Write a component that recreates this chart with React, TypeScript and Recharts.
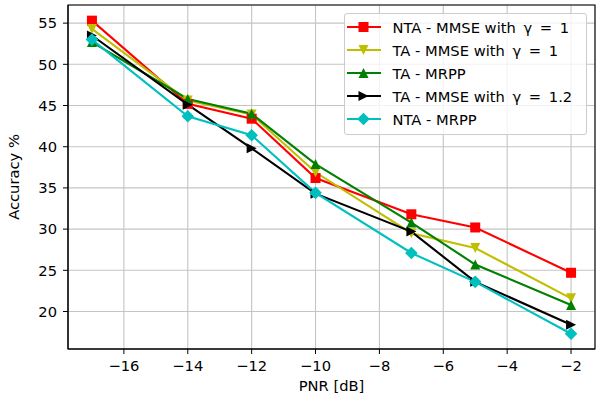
import React from 'react';
import { LineChart, Line, XAxis, YAxis, CartesianGrid, Legend, ReferenceArea } from 'recharts';

// PNR values (x) and accuracy in % for each method
const pnr = [-17, -14, -12, -10, -7, -5, -2];
const ntaMmse = [55.3, 45.2, 43.4, 36.2, 31.8, 30.2, 24.7];
const taMmse = [54.3, 45.6, 43.9, 36.9, 29.5, 27.7, 21.6];
const taMrpp = [52.7, 45.8, 44.0, 37.9, 30.8, 25.7, 20.8];
const taMmse12 = [53.5, 45.1, 39.8, 34.3, 29.7, 23.6, 18.4];
const ntaMrpp = [53.0, 43.7, 41.4, 34.4, 27.1, 23.6, 17.3];

const xTicks = [-16, -14, -12, -10, -8, -6, -4, -2];
const yTicks = [20, 25, 30, 35, 40, 45, 50, 55];

type Shape = 'square' | 'down' | 'up' | 'right' | 'diamond';

// name is split in plain part + math part (matplotlib mathtext spaces the math wider)
const series: { key: string; name: string; math?: string; color: string; shape: Shape }[] = [
  { key: 'ntaMmse', name: 'NTA - MMSE with', math: 'γ = 1', color: '#ff0000', shape: 'square' },
  { key: 'taMmse', name: 'TA - MMSE with', math: 'γ = 1', color: '#bfbf00', shape: 'down' },
  { key: 'taMrpp', name: 'TA - MRPP', color: '#008000', shape: 'up' },
  { key: 'taMmse12', name: 'TA - MMSE with', math: 'γ = 1.2', color: '#000000', shape: 'right' },
  { key: 'ntaMrpp', name: 'NTA - MRPP', color: '#00bfbf', shape: 'diamond' },
];

const data = pnr.map((x, i) => ({
  pnr: x,
  ntaMmse: ntaMmse[i],
  taMmse: taMmse[i],
  taMrpp: taMrpp[i],
  taMmse12: taMmse12[i],
  ntaMrpp: ntaMrpp[i],
}));

const FONT = 'DejaVu Sans';
const minus = (v: number) => (v < 0 ? `\u2212${-v}` : String(v));

function Marker({ cx, cy, shape, color }: { cx: number; cy: number; shape: Shape; color: string }) {
  const r = 5;
  switch (shape) {
    case 'square':
      return <rect x={cx - r} y={cy - r} width={r * 2} height={r * 2} fill={color} />;
    case 'down':
      return <polygon points={`${cx - r},${cy - r} ${cx + r},${cy - r} ${cx},${cy + r}`} fill={color} />;
    case 'up':
      return <polygon points={`${cx - r},${cy + r} ${cx + r},${cy + r} ${cx},${cy - r}`} fill={color} />;
    case 'right':
      return <polygon points={`${cx - r},${cy - r} ${cx - r},${cy + r} ${cx + r},${cy}`} fill={color} />;
    default:
      return <polygon points={`${cx},${cy - 6.3} ${cx + 6.3},${cy} ${cx},${cy + 6.3} ${cx - 6.3},${cy}`} fill={color} />;
  }
}

function LegendBox() {
  return (
    <div
      style={{
        width: 241,
        height: 118,
        border: '1px solid #cccccc',
        borderRadius: 3,
        background: 'rgba(255,255,255,0.8)',
        paddingTop: 1.5,
        boxSizing: 'content-box',
        fontFamily: FONT,
        fontSize: 14.7,
        color: '#000',
      }}
    >
      {series.map(s => (
        <div key={s.key} style={{ height: 23, display: 'flex', alignItems: 'center' }}>
          <svg width={34} height={16} style={{ marginLeft: 2, marginRight: 11.5 }}>
            <line x1={0} y1={8} x2={34} y2={8} stroke={s.color} strokeWidth={2.1} />
            <Marker cx={16.5} cy={8} shape={s.shape} color={s.color} />
          </svg>
          <span style={{ whiteSpace: 'nowrap' }}>
            {s.name}
            {s.math && <span style={{ wordSpacing: 3 }}> {s.math}</span>}
          </span>
        </div>
      ))}
    </div>
  );
}

export default function App() {
  return (
    <div style={{ position: 'absolute', left: 0, top: 0, width: 608, height: 401, background: '#fff', fontFamily: FONT }}>
      <LineChart width={608} height={401} data={data} margin={{ top: 5, right: 13, left: 0, bottom: 0 }}>
        <CartesianGrid stroke="#c4c4c4" strokeWidth={1.1} />
        <XAxis
          type="number"
          dataKey="pnr"
          domain={[-17.75, -1.25]}
          ticks={xTicks}
          allowDataOverflow
          height={52}
          tickSize={5}
          tickMargin={7}
          stroke="#000"
          tick={{ fill: '#000', fontSize: 14.7, fontFamily: FONT }}
          tickFormatter={minus}
          label={{ value: 'PNR [dB]', position: 'insideBottom', offset: 10, fill: '#000', fontSize: 14.7, fontFamily: FONT }}
        />
        <YAxis
          type="number"
          domain={[15.45, 57.2]}
          ticks={yTicks}
          allowDataOverflow
          width={68}
          tickSize={5}
          tickMargin={6}
          stroke="#000"
          tick={{ fill: '#000', fontSize: 14.7, fontFamily: FONT }}
          label={{
            value: 'Accuracy %',
            angle: -90,
            position: 'insideLeft',
            offset: 14,
            fill: '#000',
            fontSize: 14.7,
            fontFamily: FONT,
            style: { textAnchor: 'middle' },
          }}
        />
        {series.map(s => (
          <Line
            key={s.key}
            type="linear"
            dataKey={s.key}
            name={s.math ? `${s.name} ${s.math}` : s.name}
            stroke={s.color}
            strokeWidth={2.1}
            isAnimationActive={false}
            activeDot={false}
            dot={(p: any) => <Marker key={`${s.key}-${p.index}`} cx={p.cx} cy={p.cy} shape={s.shape} color={s.color} />}
          />
        ))}
        <ReferenceArea x1={-17.75} x2={-1.25} y1={15.45} y2={57.2} fill="none" stroke="#000" strokeWidth={1.1} ifOverflow="visible" />
        <Legend
          layout="vertical"
          align="center"
          verticalAlign="middle"
          content={() => <LegendBox />}
          wrapperStyle={{ position: 'absolute', left: 344, top: 13, width: 243, height: 121 }}
        />
      </LineChart>
    </div>
  );
}
